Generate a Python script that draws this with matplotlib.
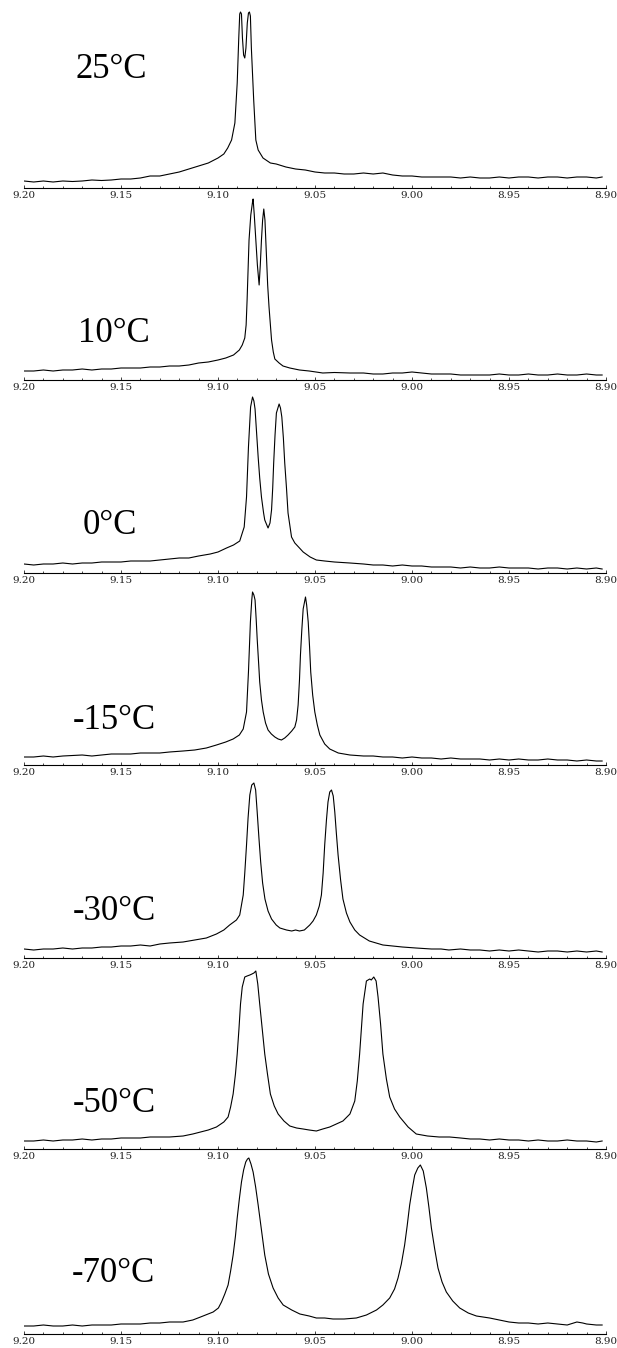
"""Variable-temperature 1H NMR stack (9.20-8.90 ppm), seven temperatures."""
import matplotlib
matplotlib.use("Agg")
import matplotlib.pyplot as plt
from matplotlib.ticker import MultipleLocator, FormatStrFormatter

# ---------- data (ppm, intensity in arbitrary units) ----------
temps = ["25°C", "10°C", "0°C", "-15°C", "-30°C", "-50°C", "-70°C"]

ppm_25 = [9.200, 9.195, 9.190, 9.185, 9.180, 9.175, 9.170, 9.165, 9.160, 9.155, 9.150, 9.145,
          9.140, 9.135, 9.130, 9.125, 9.120, 9.115, 9.110, 9.105, 9.100, 9.097, 9.095, 9.093,
          9.0913, 9.0901, 9.0893, 9.0888, 9.0884, 9.0879, 9.0874, 9.0868, 9.0862, 9.0856, 9.0849,
          9.0843, 9.0838, 9.0833, 9.0828, 9.0816, 9.0805, 9.0793, 9.0768, 9.073, 9.070, 9.065,
          9.060, 9.055, 9.050, 9.045, 9.040, 9.035, 9.030, 9.025, 9.020, 9.015, 9.010, 9.005,
          9.000, 8.995, 8.990, 8.985, 8.980, 8.975, 8.970, 8.965, 8.960, 8.955, 8.950, 8.945,
          8.940, 8.935, 8.930, 8.925, 8.920, 8.915, 8.910, 8.905, 8.902]
int_25 = [7, 6, 7, 6, 7, 6.5, 7, 8, 7.5, 8, 9, 9,
          10, 12, 12, 14, 16, 19, 22, 25, 30, 34, 40, 48,
          65, 105, 150, 174, 176, 174, 150, 133, 130, 140, 165,
          175, 176, 172, 140, 88, 48, 38, 30, 25, 24, 21,
          19, 18, 16, 15, 15, 14, 14, 15, 14, 15, 13, 12,
          12, 11, 11, 11, 11, 10, 11, 10, 10, 11, 10, 11,
          11, 10, 11, 11, 10, 11, 11, 10, 11]

ppm_10 = [9.200, 9.195, 9.190, 9.185, 9.180, 9.175, 9.170, 9.165, 9.160, 9.155, 9.150, 9.145,
          9.140, 9.135, 9.130, 9.125, 9.120, 9.115, 9.110, 9.105, 9.100, 9.096, 9.092, 9.089,
          9.0875, 9.0862, 9.0855, 9.085, 9.0845, 9.084, 9.0831, 9.0822, 9.0819, 9.0813, 9.0805,
          9.0797, 9.0788, 9.0782, 9.0776, 9.077, 9.0764, 9.0758, 9.075, 9.0744, 9.0737, 9.0724,
          9.0715, 9.0707, 9.0685, 9.0665, 9.063, 9.058, 9.053, 9.046, 9.040, 9.032, 9.025, 9.020,
          9.015, 9.010, 9.005, 9.000, 8.995, 8.990, 8.985, 8.980, 8.975, 8.970, 8.960, 8.955,
          8.950, 8.945, 8.940, 8.935, 8.930, 8.925, 8.920, 8.915, 8.910, 8.905, 8.902]
int_10 = [9, 9, 10, 9, 10, 10, 11, 10, 11, 11, 12, 12,
          12, 13, 13, 14, 14, 15, 17, 18, 20, 22, 25, 30,
          35, 42, 55, 80, 110, 140, 165, 178, 181, 165, 140,
          115, 95, 115, 140, 160, 171, 160, 123, 95, 73, 40,
          28, 21, 17, 14, 12, 10, 9, 7, 7.5, 7, 7, 6,
          6, 7, 7, 8, 7, 6, 6, 6, 5, 5, 5, 6,
          5, 5, 6, 5, 5, 6, 5, 5, 6, 5, 5]

ppm_0 = [9.200, 9.195, 9.190, 9.185, 9.180, 9.175, 9.170, 9.165, 9.160, 9.155, 9.150, 9.145,
         9.140, 9.135, 9.130, 9.125, 9.120, 9.115, 9.110, 9.104, 9.100, 9.0956, 9.092, 9.0888,
         9.0865, 9.0853, 9.0843, 9.0832, 9.0822, 9.0815, 9.0809, 9.0801, 9.0793, 9.0785, 9.0776,
         9.0765, 9.0759, 9.0742, 9.0732, 9.0724, 9.0718, 9.0713, 9.0706, 9.0699, 9.0685, 9.0678,
         9.0671, 9.0663, 9.0656, 9.0647, 9.0639, 9.0621, 9.0604, 9.058, 9.0561, 9.0525, 9.0493,
         9.045, 9.040, 9.032, 9.025, 9.020, 9.015, 9.010, 9.005, 9.000, 8.995, 8.990, 8.985,
         8.980, 8.975, 8.970, 8.965, 8.960, 8.955, 8.950, 8.945, 8.940, 8.935, 8.930, 8.925,
         8.920, 8.915, 8.910, 8.905, 8.902]
int_0 = [9, 8, 9, 9, 10, 9, 10, 10, 11, 11, 11, 12,
         12, 12, 13, 14, 15, 15, 17, 19, 21, 25, 28, 32,
         46, 76, 126, 166, 176, 172, 164, 140, 116, 95, 76,
         60, 53, 45, 50, 63, 85, 110, 138, 160, 169, 165,
         156, 135, 110, 85, 60, 36, 30, 25, 21, 16, 13,
         12, 11, 10, 9, 8, 8, 7, 8, 7, 7, 6, 6,
         6, 5, 6, 5, 5, 6, 5, 5, 5, 4, 5, 5,
         4, 5, 4, 5, 4]

ppm_m15 = [9.200, 9.195, 9.190, 9.185, 9.180, 9.170, 9.165, 9.160, 9.155, 9.150, 9.145, 9.140,
           9.135, 9.130, 9.125, 9.118, 9.112, 9.106, 9.1008, 9.096, 9.0922, 9.089, 9.087, 9.0853,
           9.0843, 9.0833, 9.0826, 9.0822, 9.0815, 9.0809, 9.0803, 9.0798, 9.079, 9.0785, 9.0776,
           9.0767, 9.0755, 9.0742, 9.0725, 9.0707, 9.069, 9.0673, 9.0656, 9.0639, 9.062, 9.0604,
           9.0595, 9.0587, 9.058, 9.0575, 9.0568, 9.0561, 9.0549, 9.0543, 9.0535, 9.0528, 9.0522,
           9.0512, 9.0501, 9.0488, 9.0475, 9.045, 9.0424, 9.038, 9.032, 9.025, 9.020, 9.015,
           9.010, 9.005, 9.000, 8.995, 8.990, 8.985, 8.980, 8.975, 8.970, 8.965, 8.960, 8.955,
           8.950, 8.945, 8.940, 8.935, 8.930, 8.925, 8.920, 8.915, 8.910, 8.905, 8.902]
int_m15 = [8, 8, 9, 8, 9, 10, 9, 10, 11, 11, 11, 12,
           12, 12, 13, 14, 15, 17, 20, 23, 26, 30, 36, 53,
           93, 143, 165, 173, 170, 165, 145, 126, 100, 83, 65,
           53, 42, 35, 31, 28, 26, 25, 27, 30, 34, 38,
           45, 60, 85, 110, 135, 156, 168, 160, 143, 118, 93,
           70, 53, 40, 30, 21, 16, 12, 10, 9, 9, 8,
           8, 7, 8, 7, 7, 6, 7, 6, 6, 6, 5, 6,
           5, 6, 5, 5, 6, 5, 5, 4, 5, 4, 4]

ppm_m30 = [9.200, 9.195, 9.190, 9.185, 9.180, 9.175, 9.170, 9.165, 9.160, 9.155, 9.150, 9.145,
           9.140, 9.135, 9.130, 9.125, 9.118, 9.112, 9.106, 9.1008, 9.097, 9.094, 9.0905, 9.0888,
           9.087, 9.0862, 9.0853, 9.0845, 9.0836, 9.0826, 9.0815, 9.0806, 9.0798, 9.0789, 9.078,
           9.077, 9.0758, 9.0742, 9.0724, 9.070, 9.0681, 9.0647, 9.062, 9.060, 9.058, 9.0555,
           9.0527, 9.051, 9.0493, 9.0478, 9.0467, 9.0458, 9.045, 9.0441, 9.0433, 9.0424, 9.0415,
           9.0406, 9.0398, 9.039, 9.0381, 9.0368, 9.0356, 9.0338, 9.032, 9.0295, 9.027, 9.022,
           9.015, 9.010, 9.005, 8.998, 8.990, 8.985, 8.981, 8.975, 8.970, 8.965, 8.960, 8.955,
           8.950, 8.945, 8.940, 8.935, 8.930, 8.925, 8.920, 8.915, 8.910, 8.905, 8.902]
int_m30 = [9, 8, 9, 9, 10, 9, 10, 10, 11, 11, 12, 12,
           13, 12, 14, 15, 16, 18, 20, 24, 28, 33, 38, 43,
           63, 85, 113, 140, 163, 173, 175, 168, 146, 120, 96,
           75, 59, 47, 39, 33, 30, 28, 27, 28, 27, 28,
           33, 37, 43, 52, 63, 85, 113, 138, 156, 166, 168,
           162, 146, 125, 103, 78, 59, 45, 36, 28, 23, 17,
           13, 12, 11, 10, 9, 9, 8, 9, 8, 8, 7, 8,
           7, 8, 7, 6, 7, 7, 6, 7, 6, 7, 6]

ppm_m50 = [9.200, 9.195, 9.190, 9.185, 9.180, 9.175, 9.170, 9.165, 9.160, 9.155, 9.150, 9.145,
           9.140, 9.135, 9.130, 9.125, 9.118, 9.113, 9.109, 9.105, 9.1008, 9.097, 9.0948, 9.0935,
           9.0922, 9.091, 9.0901, 9.0892, 9.0884, 9.0875, 9.0862, 9.085, 9.0836, 9.0825, 9.0815,
           9.0805, 9.0795, 9.0785, 9.0772, 9.0759, 9.0745, 9.073, 9.071, 9.069, 9.066, 9.063,
           9.0595, 9.0561, 9.053, 9.0493, 9.046, 9.0424, 9.039, 9.0356, 9.032, 9.0295, 9.0282,
           9.027, 9.0261, 9.0252, 9.0235, 9.0218, 9.021, 9.0197, 9.0185, 9.0175, 9.0162, 9.015,
           9.0132, 9.0115, 9.009, 9.0063, 9.002, 8.9978, 8.992, 8.986, 8.9806, 8.975, 8.970,
           8.965, 8.960, 8.955, 8.950, 8.945, 8.940, 8.935, 8.930, 8.925, 8.920, 8.915, 8.910,
           8.905, 8.902]
int_m50 = [8, 8, 9, 8, 9, 9, 10, 9, 10, 10, 11, 11,
           11, 12, 12, 12, 13, 15, 17, 19, 22, 27, 32, 42,
           55, 75, 95, 120, 145, 162, 172, 173, 174, 175, 176,
           178, 165, 145, 120, 95, 75, 55, 43, 35, 28, 23,
           21, 20, 19, 18, 20, 22, 25, 28, 35, 48, 68,
           95, 120, 145, 168, 170, 169, 172, 168, 152, 125, 95,
           70, 52, 40, 32, 22, 15, 13, 12, 12, 11, 10,
           10, 9, 10, 9, 9, 8, 9, 8, 8, 9, 8, 8,
           7, 8]

ppm_m70 = [9.200, 9.195, 9.190, 9.185, 9.180, 9.175, 9.170, 9.165, 9.160, 9.155, 9.150, 9.145,
           9.140, 9.135, 9.130, 9.125, 9.118, 9.113, 9.109, 9.1025, 9.0998, 9.0982, 9.0965, 9.0948,
           9.0935, 9.0922, 9.091, 9.0901, 9.089, 9.0879, 9.0868, 9.0857, 9.0848, 9.0841, 9.083,
           9.0819, 9.0806, 9.0793, 9.0776, 9.0759, 9.074, 9.0716, 9.069, 9.0664, 9.062, 9.0578,
           9.053, 9.0493, 9.045, 9.0407, 9.035, 9.0287, 9.0235, 9.0183, 9.015, 9.0115, 9.009,
           9.0072, 9.0055, 9.0038, 9.0025, 9.0012, 8.9998, 8.9986, 8.997, 8.9957, 8.9942, 8.9926,
           8.9913, 8.990, 8.9883, 8.9866, 8.9845, 8.9823, 8.979, 8.9754, 8.971, 8.9668, 8.960,
           8.955, 8.950, 8.945, 8.940, 8.935, 8.930, 8.925, 8.920, 8.915, 8.912, 8.910, 8.905,
           8.902]
int_m70 = [8, 8, 9, 8, 8, 9, 8, 9, 9, 9, 10, 10,
           10, 11, 11, 12, 12, 14, 17, 22, 26, 32, 40, 49,
           63, 79, 98, 116, 135, 152, 164, 172, 175, 176, 170,
           162, 147, 129, 104, 79, 60, 46, 36, 29, 24, 20,
           18, 16, 16, 15, 15, 16, 19, 24, 29, 36, 45,
           56, 70, 89, 108, 129, 146, 159, 166, 169, 163, 146,
           127, 106, 85, 66, 52, 42, 33, 26, 21, 18, 16,
           14, 12, 11, 11, 10, 11, 10, 9, 12, 11, 10, 9,
           9]

spectra = [(ppm_25, int_25), (ppm_10, int_10), (ppm_0, int_0), (ppm_m15, int_m15),
           (ppm_m30, int_m30), (ppm_m50, int_m50), (ppm_m70, int_m70)]

# ---------- layout (pixels) ----------
W, H = 617, 1348
axis_y = [188, 380, 573, 765, 958, 1149, 1334]      # baseline of each panel
label_x = [9.1737, 9.172, 9.1696, 9.1748, 9.1748, 9.1748, 9.1753]
label_base = [110, 38, 39, 36, 38, 37, 52]
panel_h = 183

fig = plt.figure(figsize=(W / 100, H / 100), dpi=100)
for i, (ppm, inten) in enumerate(spectra):
    ax = fig.add_axes([24 / W, (H - axis_y[i]) / H, 582 / W, panel_h / H])
    ax.patch.set_alpha(0)
    ax.plot(ppm, inten, color="black", lw=0.8)
    ax.set_xlim(9.20, 8.90)
    ax.set_ylim(0, panel_h)
    for s in ("top", "left", "right"):
        ax.spines[s].set_visible(False)
    ax.spines["bottom"].set_linewidth(0.8)
    ax.set_yticks([])
    ax.xaxis.set_major_locator(MultipleLocator(0.05))
    ax.xaxis.set_minor_locator(MultipleLocator(0.01))
    ax.xaxis.set_major_formatter(FormatStrFormatter("%.2f"))
    ax.tick_params(axis="x", which="major", direction="in", length=2.5, width=0.6,
                   pad=2.0, labelsize=7.5, colors="#222222")
    ax.tick_params(axis="x", which="minor", direction="in", length=1.8, width=0.5)
    for lab in ax.get_xticklabels():
        lab.set_fontfamily("DejaVu Serif")
    ax.text(label_x[i], label_base[i], temps[i], fontsize=25, family="Liberation Serif",
            ha="left", va="baseline")

fig.savefig("out.png", dpi=100)
